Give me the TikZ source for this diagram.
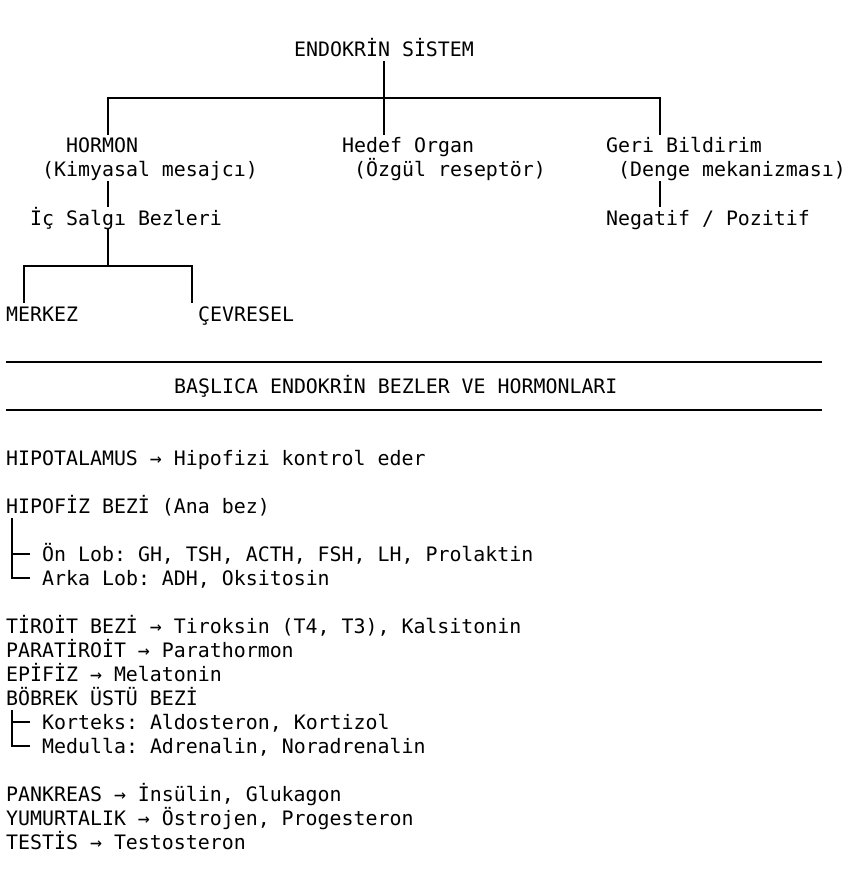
\documentclass[tikz,border=0pt]{standalone}
\usepackage{fontspec}
\setmonofont{DejaVu Sans Mono}
\begin{document}
\begin{tikzpicture}[x=1pt,y=-1pt,
  txt/.style={anchor=base west,inner sep=0pt,font=\ttfamily\fontsize{19.9}{24}\selectfont},
  ln/.style={line width=1.6pt,line cap=rect},
  sep/.style={line width=1.6pt}]
\useasboundingbox[fill=white] (0,0) rectangle (858,869);
% top tree text
\node[txt] (root) at (294,57) {ENDOKRİN SİSTEM};
\node[txt] (horm) at (66,153) {HORMON};
\node[txt] (kim) at (42,177) {(Kimyasal mesajcı)};
\node[txt] (hedef) at (342,153) {Hedef Organ};
\node[txt] (ozgul) at (354,177) {(Özgül reseptör)};
\node[txt] (geri) at (606,153) {Geri Bildirim};
\node[txt] (denge) at (618,177) {(Denge mekanizması)};
\node[txt] (ic) at (30,225) {İç Salgı Bezleri};
\node[txt] (neg) at (606,225) {Negatif / Pozitif};
\node[txt] (merkez) at (6,321) {MERKEZ};
\node[txt] (cevre) at (198,321) {ÇEVRESEL};
% tree coordinates
\coordinate (r0) at (384,62);
\coordinate (r1) at (384,134);
\coordinate (hl) at (108,98);
\coordinate (hr) at (660,98);
\coordinate (hlb) at (108,134);
\coordinate (hrb) at (660,134);
\coordinate (ka) at (108,182);
\coordinate (kb) at (108,206);
\coordinate (ga) at (660,182);
\coordinate (gb) at (660,206);
\coordinate (ia) at (108,230);
\coordinate (ib) at (108,266);
\coordinate (ml) at (24,266);
\coordinate (mr) at (192,266);
\coordinate (mlb) at (24,302);
\coordinate (mrb) at (192,302);
\draw[ln] (r0) -- (r1);
\draw[ln] (hlb) -- (hl) -- (hr) -- (hrb);
\draw[ln] (ka) -- (kb);
\draw[ln] (ga) -- (gb);
\draw[ln] (ia) -- (ib);
\draw[ln] (mlb) -- (ml) -- (mr) -- (mrb);
% separators
\coordinate (s1a) at (6,362);
\coordinate (s1b) at (822,362);
\coordinate (s2a) at (6,410);
\coordinate (s2b) at (822,410);
\draw[sep] (s1a) -- (s1b);
\draw[sep] (s2a) -- (s2b);
\node[txt] (title) at (174,393) {BAŞLICA ENDOKRİN BEZLER VE HORMONLARI};
% list
\node[txt] (hipo) at (6,465) {HIPOTALAMUS → Hipofizi kontrol eder};
\node[txt] (hipof) at (6,513) {HIPOFİZ BEZİ (Ana bez)};
\node[txt] (on) at (42,561) {Ön Lob: GH, TSH, ACTH, FSH, LH, Prolaktin};
\node[txt] (arka) at (42,585) {Arka Lob: ADH, Oksitosin};
\node[txt] (tiroit) at (6,633) {TİROİT BEZİ → Tiroksin (T4, T3), Kalsitonin};
\node[txt] (para) at (6,657) {PARATİROİT → Parathormon};
\node[txt] (epi) at (6,681) {EPİFİZ → Melatonin};
\node[txt] (bob) at (6,705) {BÖBREK ÜSTÜ BEZİ};
\node[txt] (kor) at (42,729) {Korteks: Aldosteron, Kortizol};
\node[txt] (med) at (42,753) {Medulla: Adrenalin, Noradrenalin};
\node[txt] (pank) at (6,801) {PANKREAS → İnsülin, Glukagon};
\node[txt] (yum) at (6,825) {YUMURTALIK → Östrojen, Progesteron};
\node[txt] (test) at (6,849) {TESTİS → Testosteron};
% list branches
\coordinate (pa) at (12,518);
\coordinate (pb) at (12,554);
\coordinate (pc) at (12,578);
\coordinate (pbe) at (30,554);
\coordinate (pce) at (30,578);
\draw[ln,line cap=butt] (pa) -- (pc) -- (pce);
\draw[ln,line cap=butt] (pb) -- (pbe);
\coordinate (ba) at (12,710);
\coordinate (bb) at (12,722);
\coordinate (bc) at (12,746);
\coordinate (bbe) at (30,722);
\coordinate (bce) at (30,746);
\draw[ln,line cap=butt] (ba) -- (bc) -- (bce);
\draw[ln,line cap=butt] (bb) -- (bbe);
\end{tikzpicture}
\end{document}
